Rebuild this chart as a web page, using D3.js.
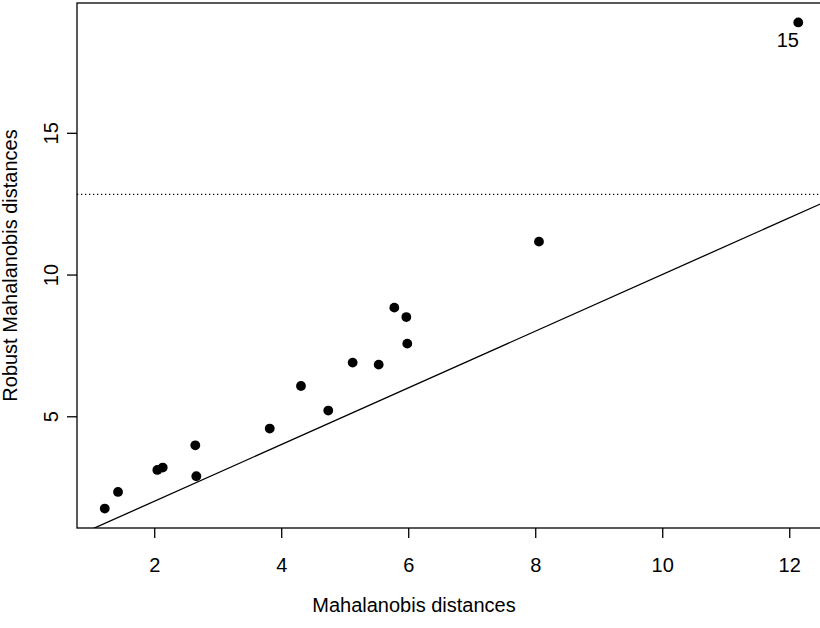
<!DOCTYPE html>
<html>
<head>
<meta charset="utf-8">
<script src="https://cdn.jsdelivr.net/npm/d3@7"></script>
<style>
  html, body { margin: 0; padding: 0; background: #fff; }
  svg { display: block; }
  text { font-family: "Liberation Sans", Arial, sans-serif; fill: #000; }
</style>
</head>
<body>
<svg id="chart" width="820" height="628"></svg>
<script>
// Data
const mahalanobis = [1.221, 1.430, 2.049, 2.134, 2.647, 2.663, 3.819, 4.311, 4.741, 5.125, 5.535, 5.781, 5.970, 5.985, 8.059, 12.142];
const robustMahalanobis = [1.745, 2.331, 3.107, 3.191, 3.977, 2.884, 4.566, 6.068, 5.201, 6.893, 6.823, 8.833, 8.501, 7.563, 11.160, 18.893];
const pointLabels = ["", "", "", "", "", "", "", "", "", "", "", "", "", "", "", "15"];
const xTicks = [2, 4, 6, 8, 10, 12];
const yTicks = [5, 10, 15];
const cutoff = [12.83];          // dotted horizontal reference line
const identityLine = [0, 20];    // y = x reference line

const svg = d3.select("#chart");
const W = 820, H = 628;
const FS = 20;
svg.append("rect").attr("width", W).attr("height", H).attr("fill", "#fff");

const plotLeft = 77, plotRight = 826, plotTop = 3, plotBottom = 528;

function ext(arr) {
  const [a, b] = d3.extent(arr);
  const r = b - a;
  return [a - 0.04 * r, b + 0.04 * r];
}
const x = d3.scaleLinear().domain(ext(mahalanobis)).range([plotLeft, plotRight]);
const y = d3.scaleLinear().domain(ext(robustMahalanobis)).range([plotBottom, plotTop]);

svg.append("clipPath").attr("id", "clip")
  .append("rect").attr("x", plotLeft).attr("y", plotTop)
  .attr("width", plotRight - plotLeft).attr("height", plotBottom - plotTop);

const g = svg.append("g").attr("clip-path", "url(#clip)");

// y = x line
g.append("line")
  .attr("x1", x(identityLine[0])).attr("y1", y(identityLine[0]))
  .attr("x2", x(identityLine[1])).attr("y2", y(identityLine[1]))
  .attr("stroke", "#000").attr("stroke-width", 1.3);

// dotted cutoff line
g.selectAll(".cut").data(cutoff).enter().append("line")
  .attr("x1", plotLeft).attr("x2", plotRight)
  .attr("y1", d => y(d)).attr("y2", d => y(d))
  .attr("stroke", "#000").attr("stroke-width", 1.3)
  .attr("stroke-dasharray", "1.3,2.7");

// points
const pts = mahalanobis.map((d, i) => ({ x: d, y: robustMahalanobis[i], label: pointLabels[i] }));
svg.selectAll(".pt").data(pts).enter().append("circle")
  .attr("cx", d => x(d.x)).attr("cy", d => y(d.y)).attr("r", 4.9)
  .attr("fill", "#000");

svg.selectAll(".lbl").data(pts.filter(d => d.label)).enter().append("text")
  .attr("x", d => x(d.x) - 10.5).attr("y", d => y(d.y) + 25)
  .attr("text-anchor", "middle").attr("font-size", FS)
  .text(d => d.label);

// box
svg.append("rect")
  .attr("x", plotLeft).attr("y", plotTop)
  .attr("width", plotRight - plotLeft).attr("height", plotBottom - plotTop)
  .attr("fill", "none").attr("stroke", "#000").attr("stroke-width", 1.3);

// x axis
const xAxis = d3.axisBottom(x).tickValues(xTicks).tickSize(10).tickFormat(d3.format("d"));
const xg = svg.append("g").attr("transform", `translate(0,${plotBottom})`).call(xAxis);
xg.select(".domain").remove();
xg.selectAll("line").attr("stroke", "#000").attr("stroke-width", 1.3);
xg.selectAll("text").attr("font-size", FS).attr("font-family", "Liberation Sans, Arial, sans-serif")
  .attr("fill", "#000").attr("dy", null).attr("y", 44);

// y axis with rotated labels
const yAxis = d3.axisLeft(y).tickValues(yTicks).tickSize(10).tickFormat(d3.format("d"));
const yg = svg.append("g").attr("transform", `translate(${plotLeft},0)`).call(yAxis);
yg.select(".domain").remove();
yg.selectAll("line").attr("stroke", "#000").attr("stroke-width", 1.3);
yg.selectAll("text")
  .attr("font-size", FS).attr("font-family", "Liberation Sans, Arial, sans-serif").attr("fill", "#000")
  .attr("x", null).attr("dy", null)
  .attr("transform", "translate(-19,0) rotate(-90)")
  .attr("text-anchor", "middle").attr("y", 0);

// axis titles
svg.append("text").attr("x", 414).attr("y", 612)
  .attr("text-anchor", "middle").attr("font-size", FS)
  .text("Mahalanobis distances");
svg.append("text")
  .attr("transform", `translate(17,${(plotTop + plotBottom) / 2}) rotate(-90)`)
  .attr("text-anchor", "middle").attr("font-size", FS)
  .text("Robust Mahalanobis distances");
</script>
</body>
</html>
